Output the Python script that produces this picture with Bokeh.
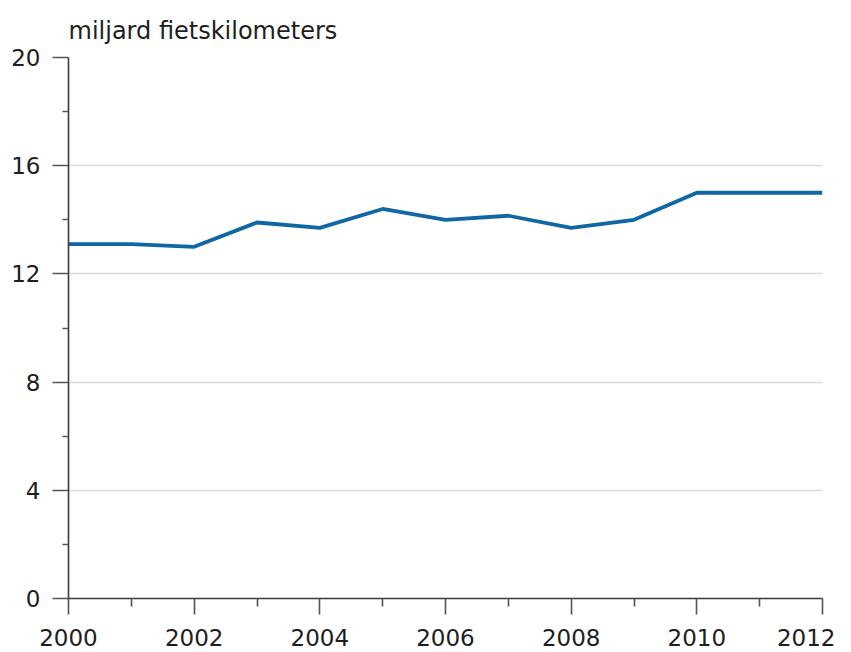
from bokeh.plotting import figure
from bokeh.models import FixedTicker, Range1d
from bokeh.embed import file_html
from bokeh.resources import INLINE

years = [2000, 2001, 2002, 2003, 2004, 2005, 2006, 2007, 2008, 2009, 2010, 2011, 2012]
km = [13.1, 13.1, 13.0, 13.9, 13.7, 14.4, 14.0, 14.15, 13.7, 14.0, 15.0, 15.0, 15.0]
y_major = [0, 4, 8, 12, 16, 20]
y_minor = [2, 6, 10, 14, 18]
x_major = [2000, 2002, 2004, 2006, 2008, 2010, 2012]
x_minor = [2001, 2003, 2005, 2007, 2009, 2011]
title_text = "miljard fietskilometers"

FONT = "DejaVu Sans"

p = figure(width=835, height=652, output_backend="svg", toolbar_location=None,
           x_range=Range1d(2000, 2012), y_range=Range1d(0, 20),
           min_border_left=68, min_border_top=57, min_border_right=13, min_border_bottom=54,
           title=title_text)
p.outline_line_color = None
p.background_fill_color = "white"
p.border_fill_color = "white"

p.title.text_font = FONT
p.title.text_font_size = "24px"
p.title.text_font_style = "normal"
p.title.text_color = "#1e1e1e"
p.title.align = "left"
p.title.standoff = 26

p.line(years, km, line_color="#0f67a3", line_width=3.8)

for ax in (p.xaxis[0], p.yaxis[0]):
    ax.axis_line_color = "#3a3a3a"
    ax.axis_line_width = 1.6
    ax.major_tick_line_color = "#555555"
    ax.major_tick_line_width = 1.6
    ax.minor_tick_line_color = "#555555"
    ax.minor_tick_line_width = 1.6
    ax.major_tick_in = 0
    ax.minor_tick_in = 0
    ax.major_label_text_font = FONT
    ax.major_label_text_font_size = "23px"
    ax.major_label_text_color = "#1e1e1e"

p.xaxis.ticker = FixedTicker(ticks=x_major, minor_ticks=x_minor)
p.xaxis.major_tick_out = 16
p.xaxis.minor_tick_out = 8
p.xaxis.major_label_standoff = 14

p.yaxis.ticker = FixedTicker(ticks=y_major, minor_ticks=y_minor)
p.yaxis.major_tick_out = 16
p.yaxis.minor_tick_out = 6
p.yaxis.major_label_standoff = 12

p.xgrid.grid_line_color = None
p.ygrid.grid_line_color = "#d9d9d9"
p.ygrid.grid_line_width = 1.3

open("out.html", "w").write(file_html(p, INLINE))
